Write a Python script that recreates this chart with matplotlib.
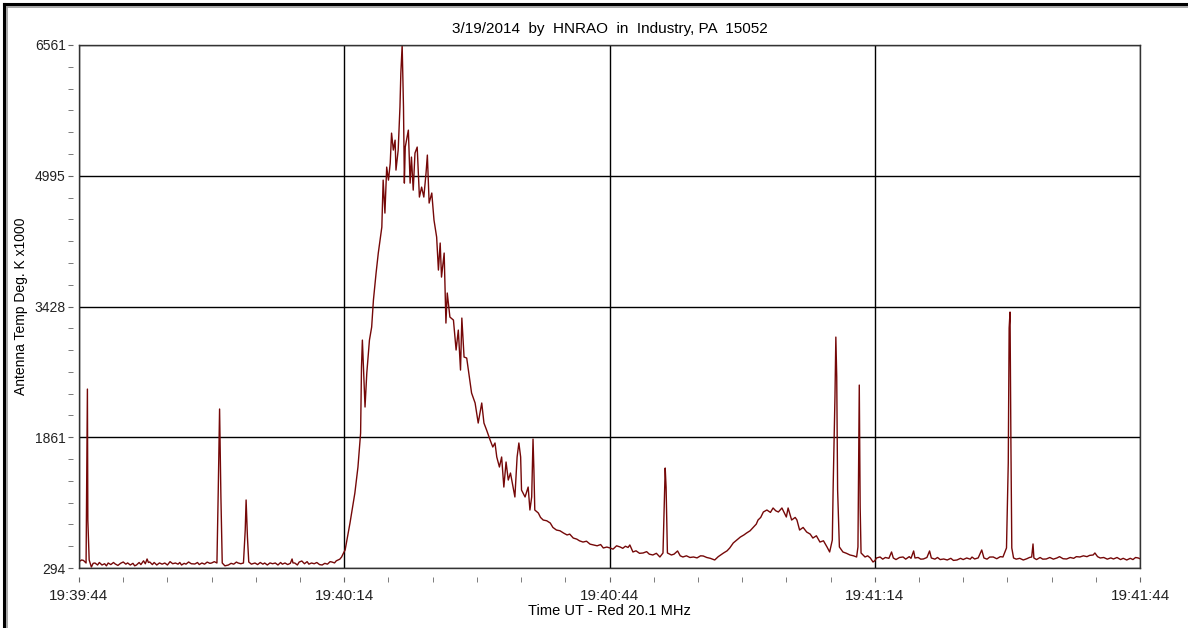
import numpy as np
import matplotlib
matplotlib.use("Agg")
import matplotlib.pyplot as plt
from matplotlib.path import Path
from matplotlib.lines import Line2D

# seconds after 19:39:44 UT, antenna temperature (deg K x1000)
time_s = [
    0.0, 0.3, 0.5, 0.8, 0.95, 1.0, 1.15, 1.4, 1.6, 1.8, 2.1, 2.3, 2.6, 2.9, 3.1, 3.3, 3.6, 3.9,
    4.1, 4.4, 4.7, 5.0, 5.3, 5.5, 5.8, 6.1, 6.3, 6.5, 6.8, 7.0, 7.3, 7.5, 7.7, 7.85, 8.0, 8.3,
    8.5, 8.8, 9.1, 9.4, 9.7, 10.0, 10.3, 10.6, 10.9, 11.2, 11.4, 11.6, 11.9, 12.1, 12.4, 12.7,
    13.1, 13.4, 13.6, 13.9, 14.2, 14.5, 14.8, 15.0, 15.3, 15.6, 15.75, 15.9, 16.05, 16.2, 16.5,
    16.9, 17.2, 17.5, 17.8, 18.0, 18.3, 18.6, 18.8, 18.9, 19.05, 19.2, 19.5, 19.9, 20.2, 20.5,
    20.8, 21.0, 21.3, 21.6, 21.9, 22.2, 22.5, 22.8, 23.0, 23.3, 23.6, 23.9, 24.1, 24.2, 24.4,
    24.7, 24.9, 25.2, 25.5, 25.8, 26.0, 26.3, 26.6, 26.9, 27.2, 27.5, 27.8, 28.1, 28.4, 28.6,
    28.9, 29.1, 29.3, 29.5, 29.7, 29.9, 30.1, 30.3, 30.65, 31.2, 31.55, 31.85, 31.95, 32.05,
    32.2, 32.35, 32.55, 32.85, 33.1, 33.3, 33.6, 33.85, 34.05, 34.25, 34.4, 34.6, 34.8, 35.0,
    35.2, 35.35, 35.55, 35.75, 35.85, 36.1, 36.3, 36.4, 36.55, 36.7, 36.8, 36.9, 37.25, 37.45,
    37.6, 37.8, 38.0, 38.25, 38.5, 38.75, 39.0, 39.25, 39.4, 39.6, 39.9, 40.15, 40.45, 40.65,
    40.85, 41.0, 41.3, 41.5, 41.65, 41.95, 42.35, 42.65, 42.9, 43.15, 43.3, 43.55, 43.85, 44.15,
    44.4, 44.8, 45.15, 45.55, 45.8, 46.1, 46.5, 46.8, 47.05, 47.25, 47.55, 47.8, 48.05, 48.3,
    48.55, 48.8, 49.1, 49.3, 49.55, 49.75, 49.95, 50.05, 50.45, 50.8, 51.0, 51.2, 51.35, 51.45,
    51.55, 51.95, 52.2, 52.5, 52.9, 53.3, 53.6, 54.0, 54.4, 54.8, 55.2, 55.5, 55.9, 56.3, 56.6,
    57.0, 57.4, 57.8, 58.2, 58.6, 59.0, 59.3, 59.7, 60.05, 60.4, 60.8, 61.2, 61.5, 61.8, 62.1,
    62.3, 62.65, 63.0, 63.4, 63.8, 64.2, 64.5, 64.9, 65.3, 65.7, 66.05, 66.3, 66.4, 66.55, 67.0,
    67.3, 67.7, 68.0, 68.3, 68.7, 69.1, 69.5, 69.9, 70.3, 70.6, 71.0, 71.4, 71.9, 72.3, 72.9,
    73.3, 73.6, 74.0, 74.4, 74.8, 75.2, 75.5, 75.9, 76.3, 76.6, 76.8, 77.1, 77.4, 77.8, 78.2,
    78.5, 78.8, 79.1, 79.5, 80.0, 80.2, 80.6, 81.0, 81.2, 81.5, 81.9, 82.3, 82.7, 83.0, 83.4,
    83.8, 84.2, 84.6, 84.9, 85.2, 85.3, 85.5, 85.6, 85.7, 85.8, 86.0, 86.4, 86.8, 87.2, 87.6,
    87.95, 88.1, 88.25, 88.35, 88.45, 88.9, 89.2, 89.5, 89.8, 90.0, 90.2, 90.6, 90.9, 91.2,
    91.6, 91.9, 92.1, 92.4, 92.8, 93.2, 93.5, 93.9, 94.1, 94.4, 94.55, 94.9, 95.2, 95.5, 95.9,
    96.2, 96.4, 96.8, 97.1, 97.4, 97.8, 98.2, 98.6, 98.9, 99.3, 99.7, 100.0, 100.4, 100.8,
    101.0, 101.3, 101.7, 102.1, 102.35, 102.7, 103.0, 103.4, 103.8, 104.2, 104.5, 104.9, 105.1,
    105.2, 105.3, 105.4, 105.5, 105.7, 106.0, 106.4, 106.8, 107.2, 107.5, 107.75, 107.9, 108.0,
    108.3, 108.7, 109.0, 109.4, 109.8, 110.2, 110.6, 110.9, 111.3, 111.7, 112.1, 112.5, 112.8,
    113.2, 113.6, 114.0, 114.3, 114.7, 114.9, 115.2, 115.5, 115.9, 116.3, 116.7, 117.0, 117.4,
    117.8, 118.1, 118.5, 118.9, 119.2, 119.5, 119.8, 120.0,
]
temp_k = [
    370, 390, 385, 354, 2438, 869, 390, 306, 350, 354, 330, 360, 330, 345, 320, 354, 335, 360,
    342, 325, 350, 366, 340, 355, 330, 350, 320, 330, 360, 335, 380, 345, 402, 360, 366, 335,
    360, 330, 355, 340, 354, 330, 370, 345, 354, 340, 360, 330, 350, 340, 366, 345,
    342, 360, 335, 354, 340, 365, 350, 354, 370, 354, 1228, 2199, 1145, 354, 320,
    330, 350, 340, 365, 354, 345, 354, 749, 1109, 665, 366, 340, 354, 335, 360,
    340, 354, 330, 355, 345, 354, 330, 360, 340, 354, 335, 350, 402, 355, 354,
    330, 365, 378, 345, 370, 340, 354, 345, 360, 335, 330, 350, 340, 370, 366,
    355, 380, 390, 400, 426, 470, 510, 629, 833, 1192, 1504, 1911, 2702, 3025,
    2630, 2223, 2630, 3025, 3181, 3505, 3828, 4068, 4223, 4379, 4942, 4547, 5098, 4942,
    5146, 5505, 5302, 5421, 5062, 5302, 5817, 6224, 6560, 5817, 4906, 5338, 5541, 4906,
    5218, 4822, 5266, 5338, 4739, 4858, 4739, 5026, 5242, 4667, 4787, 4463, 4259, 3864,
    4188, 3780, 4068, 3229, 3589, 3301, 3265, 2906, 3145, 2666, 3289, 2822, 2810, 2582,
    2391, 2271, 2031, 2271, 2031, 1947, 1827, 1744, 1792, 1624, 1504, 1624, 1264, 1564,
    1348, 1432, 1264, 1145, 1624, 1792, 1624, 1228, 1145, 1264, 989, 1145, 1839, 1468,
    989, 953, 900, 869, 860, 833, 780, 749, 740, 713, 690, 700, 653, 640, 620,
    605, 615, 580, 570, 560, 575, 534, 545, 534, 520, 560, 546, 530, 555, 540,
    570, 486, 500, 470, 474, 490, 460, 450, 470, 426, 474, 1492, 1264, 474, 450,
    460, 498, 440, 426, 440, 420, 426, 415, 440, 438, 420, 410, 390, 430, 474,
    500, 534, 594, 630, 665, 690, 713, 740, 785, 820, 869, 900, 965, 989, 960,
    1013, 980, 965, 1013, 905, 1013, 869, 900, 869, 749, 780, 725, 700, 653, 680,
    605, 620, 546, 486, 629, 1288, 2343, 3061, 2582, 1228, 546, 486, 470, 450, 440,
    426, 546, 2486, 1025, 474, 426, 440, 414, 366, 380, 414, 426, 400, 420,
    410, 486, 414, 395, 420, 426, 400, 430, 410, 498, 414, 420, 400, 402, 420,
    498, 414, 400, 420, 395, 402, 390, 410, 385, 390, 410, 395, 414, 400,
    425, 402, 415, 510, 414, 400, 425, 426, 405, 430, 426, 534, 1552,
    3169, 3361, 1792, 534, 414, 400, 410, 390, 405, 420, 426, 582, 414,
    395, 420, 400, 402, 420, 400, 414, 430, 405, 402, 420, 410, 430,
    426, 440, 430, 445, 450, 474, 430, 414, 420, 400, 415, 402, 420,
    395, 410, 390, 410, 395, 420, 414, 405,
]

y_ticks = [294, 1860.75, 3427.5, 4994.25, 6561]
y_labels = ["294", "1861", "3428", "4995", "6561"]
x_ticks = [0, 30, 60, 90, 120]
x_labels = ["19:39:44", "19:40:14", "19:40:44", "19:41:14", "19:41:44"]

plt.rcParams["font.family"] = ["Liberation Sans", "DejaVu Sans"]
plt.rcParams["font.size"] = 10

fig = plt.figure(figsize=(11.88, 6.28), dpi=100)
ax = fig.add_axes([79 / 1188, 1 - 568 / 628, 1061 / 1188, 523 / 628])

ax.plot(time_s, temp_k, color="#750808", linewidth=1.0)

ax.set_xlim(0, 120)
ax.set_ylim(294, 6561)
ax.set_xticks(x_ticks)
ax.set_xticklabels(x_labels, fontsize=11)
ax.set_xticks(np.arange(0, 121, 5), minor=True)
ax.set_yticks(y_ticks)
ax.set_yticklabels(y_labels, fontsize=10)
ax.set_yticks(np.linspace(294, 6561, 25), minor=True)
ax.grid(True, which="major", color="black", linewidth=1.0)
for sp in ax.spines.values():
    sp.set_color("#333333")
    sp.set_linewidth(1.0)

# ticks sit a little away from the frame, like the original software
ax.tick_params(which="both", length=0, colors="#222222")
ax.tick_params(axis="y", which="major", pad=9.5)
ax.tick_params(axis="x", which="major", pad=15)
ymark = Path([(-1, 0), (-0.5, 0)])
xmark = Path([(0, -1), (0, -0.62)])
for tk in ax.yaxis.get_major_ticks() + ax.yaxis.get_minor_ticks():
    tk.tick1line.set_marker(ymark)
    tk.tick1line.set_markersize(16)
    tk.tick1line.set_markeredgecolor("#666666")
for tk in ax.xaxis.get_major_ticks() + ax.xaxis.get_minor_ticks():
    tk.tick1line.set_marker(xmark)
    tk.tick1line.set_markersize(20)
    tk.tick1line.set_markeredgecolor("#666666")

ax.set_title("3/19/2014  by  HNRAO  in  Industry, PA  15052", fontsize=11, pad=9)
ax.set_xlabel("Time UT - Red 20.1 MHz", fontsize=10.5, labelpad=1)
ax.set_ylabel("Antenna Temp Deg. K x1000", fontsize=10, labelpad=5)

# window frame on the left and top
fig.add_artist(Line2D([4 / 1188, 4 / 1188], [0, 1 - 4 / 628], transform=fig.transFigure,
                      color="black", linewidth=2.2))
fig.add_artist(Line2D([4 / 1188, 1], [1 - 4 / 628, 1 - 4 / 628], transform=fig.transFigure,
                      color="black", linewidth=2.2))
fig.add_artist(Line2D([6.5 / 1188, 6.5 / 1188], [0, 1 - 6.5 / 628], transform=fig.transFigure,
                      color="#999999", linewidth=1.2))
fig.add_artist(Line2D([6.5 / 1188, 1], [1 - 6.5 / 628, 1 - 6.5 / 628], transform=fig.transFigure,
                      color="#999999", linewidth=1.2))

fig.savefig("out.png", dpi=100)
